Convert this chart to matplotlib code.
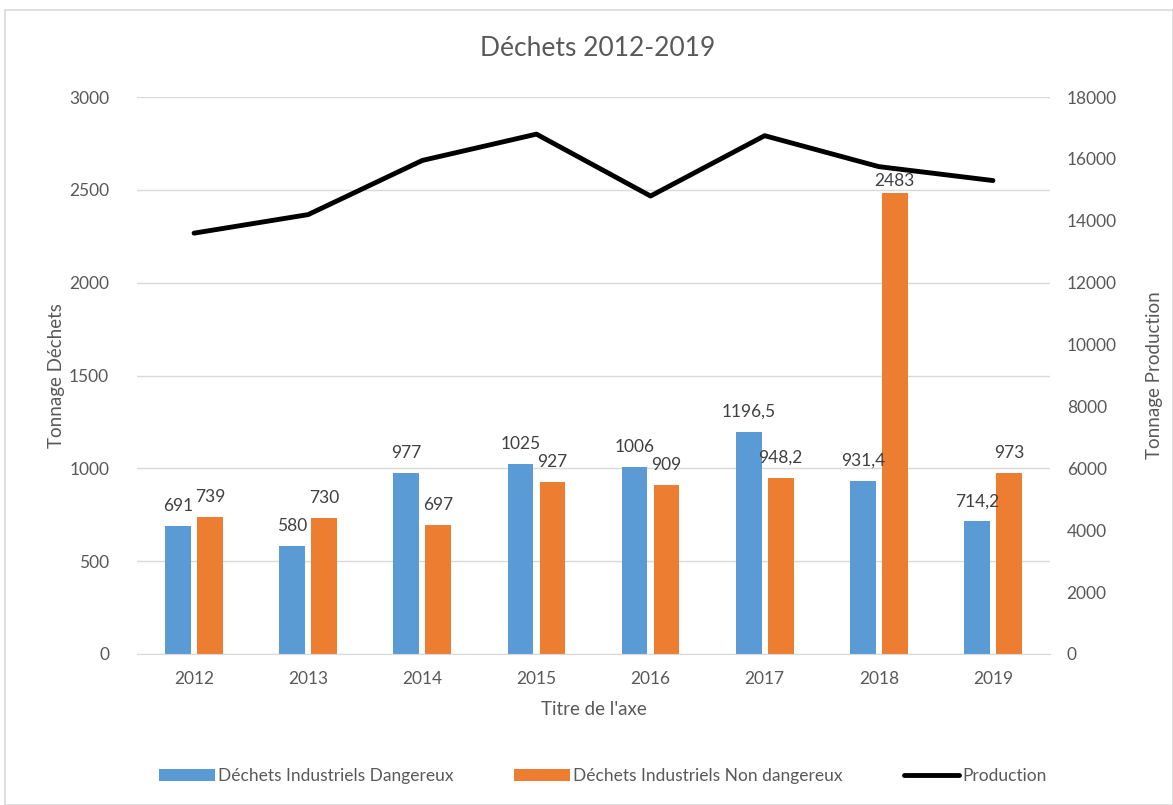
import matplotlib
matplotlib.use("Agg")
import matplotlib.pyplot as plt
from matplotlib.patches import Rectangle
import numpy as np

years = ["2012", "2013", "2014", "2015", "2016", "2017", "2018", "2019"]
dangereux = [691, 580, 977, 1025, 1006, 1196.5, 931.4, 714.2]
non_dangereux = [739, 730, 697, 927, 909, 948.2, 2483, 973]
production = [13600, 14200, 15950, 16800, 14800, 16750, 15750, 15300]

def fr(v):
    s = f"{v:g}"
    return s.replace(".", ",")

plt.rcParams['font.family'] = ['Lato', 'DejaVu Sans']
txt = '#595959'
blue = '#5B9BD5'
orange = '#ED7D31'

fig = plt.figure(figsize=(11.73, 8.05), dpi=100)
fig.patches.append(Rectangle((5/1173, 0), 1 - 5/1173, 1 - 10/805, transform=fig.transFigure,
                             fill=False, edgecolor='#d9d9d9', linewidth=1.2))
ax = fig.add_axes([137/1173, 1 - 654/805, (1050 - 137)/1173, (654 - 97)/805])
ax2 = ax.twinx()

x = np.arange(len(years))
w = 0.225
off = 0.14
b1 = ax.bar(x - off, dangereux, w, color=blue, label='Déchets Industriels Dangereux', zorder=2)
b2 = ax.bar(x + off, non_dangereux, w, color=orange, label='Déchets Industriels Non dangereux', zorder=2)
for xi, v in zip(x, dangereux):
    ax.text(xi - off, v + 65, fr(v), ha='center', va='bottom', fontsize=12.5, color='#404040', zorder=3)
for xi, v in zip(x, non_dangereux):
    dy = 20 if v > 2400 else 65
    ax.text(xi + off, v + dy, fr(v), ha='center', va='bottom', fontsize=12.5, color='#404040', zorder=3)

ax.set_ylim(0, 3000)
ax.set_yticks(np.arange(0, 3001, 500))
ax.set_xlim(-0.5, len(years) - 0.5)
ax.set_xticks(x)
ax.set_xticklabels(years)
ax.grid(axis='y', color='#d9d9d9', linewidth=1, zorder=0)
ax.set_axisbelow(True)

ax2.plot(x, production, color='black', linewidth=3.5, label='Production', zorder=5, solid_capstyle='round')
ax2.set_ylim(0, 18000)
ax2.set_yticks(np.arange(0, 18001, 2000))

ax.set_zorder(ax2.get_zorder() - 1)
ax.patch.set_visible(True)
ax2.patch.set_visible(False)

for a in (ax, ax2):
    for s in a.spines.values():
        s.set_visible(False)
    a.tick_params(length=0, labelsize=12.5, colors=txt)
ax.spines['bottom'].set_visible(True)
ax.spines['bottom'].set_color('#d9d9d9')
ax.tick_params(axis='y', pad=20)
ax2.tick_params(axis='y', pad=12)
ax.tick_params(axis='x', pad=12)

ax.set_ylabel('Tonnage Déchets', fontsize=13.5, color=txt, labelpad=3)
ax2.set_ylabel('Tonnage Production', fontsize=13.5, color=txt, labelpad=21)
ax.set_xlabel("Titre de l'axe", fontsize=13.5, color=txt, labelpad=10)
fig.text(598/1173, 1 - 48/805, 'Déchets 2012-2019', ha='center', va='center', fontsize=19, color=txt)

handles = [b1, b2] + ax2.get_lines()
labels = [h.get_label() for h in handles]
fig.legend(handles, labels, loc='center', bbox_to_anchor=(603/1173, 1 - 776/805), ncol=3,
           frameon=False, fontsize=12.5, labelcolor=txt, handlelength=3.2, handletextpad=0.2,
           columnspacing=3.5)

fig.savefig('out.png', dpi=100)
